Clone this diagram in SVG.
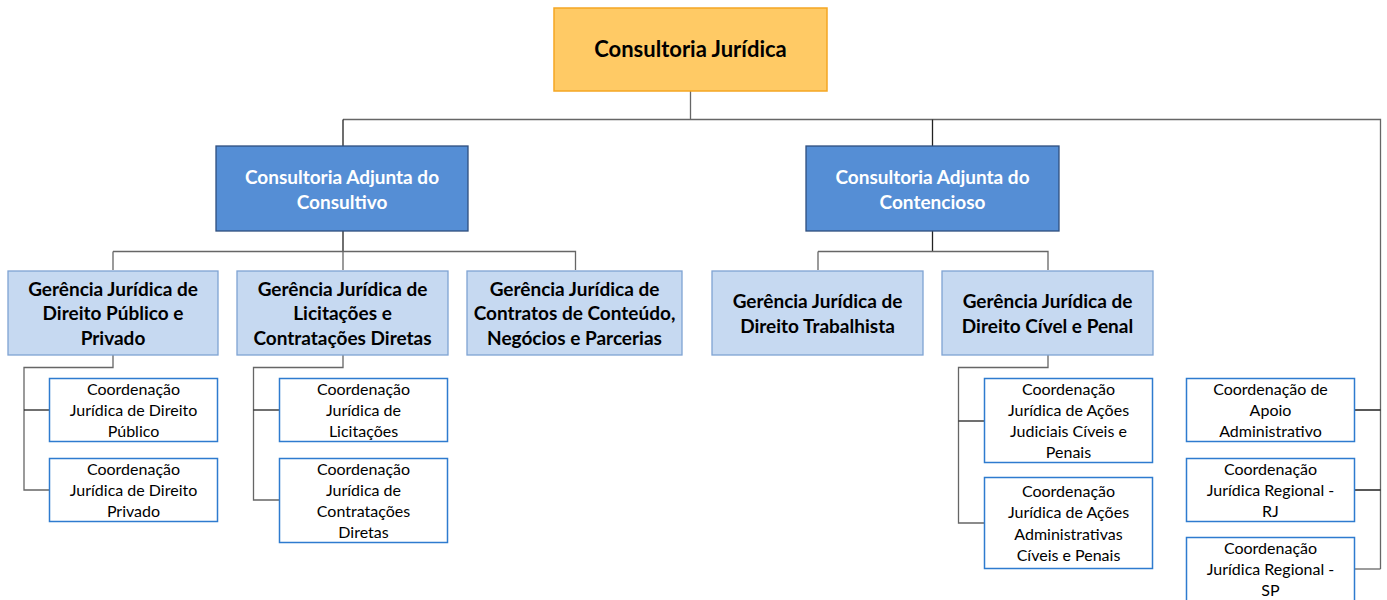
<svg xmlns="http://www.w3.org/2000/svg" width="1387" height="600" viewBox="0 0 1387 600">
<style>
text{font-family:Lato,"Open Sans","Liberation Sans",sans-serif;text-anchor:middle}
.top{fill:#FFCA65;stroke:#F5A623;stroke-width:1.5}
.adj{fill:#558ED5;stroke:#2F4F7F;stroke-width:1.3}
.ger{fill:#C6D9F1;stroke:#7FA3D3;stroke-width:1.3}
.co{fill:#fff;stroke:#2E7BCF;stroke-width:1.5}
.t1{font-size:22px;font-weight:bold;fill:#000}
.t2{font-size:19px;font-weight:bold;fill:#fff}
.t3{font-size:19px;font-weight:bold;fill:#000}
.t4{font-size:16px;fill:#000}
.c{fill:none;stroke:#666;stroke-width:1.3}
.d{fill:none;stroke:#222;stroke-width:1.3}
</style>
<g id="connectors">
<path class="c" d="M690.5 91V119.5M343 119.5H1380.5V569"/>
<path class="d" d="M343 119.5V146M932.5 119.5V146"/>
<path class="d" d="M343 231V251.5"/>
<path class="c" d="M113 251.5H575.5V270M113 251.5V270M343 251.5V270"/>
<path class="d" d="M932.5 231V251.5"/>
<path class="c" d="M818 251.5H1048V270M818 251.5V270"/>
<path class="c" d="M113 354V367.5H24V490H49"/>
<path class="d" d="M24 410H49"/>
<path class="c" d="M343 354V367.5H253.5V500H279"/>
<path class="d" d="M253.5 410H279"/>
<path class="c" d="M1048 354V367.5H958.5V523H984"/>
<path class="d" d="M958.5 421H984"/>
<path class="d" d="M1355 410H1380.5M1355 490H1380.5"/>
<path class="c" d="M1355 569H1380.5"/>
</g>
<g id="n-cj"><rect class="top" x="554" y="8" width="273" height="83"/><text class="t1" x="690.5" y="57">Consultoria Jurídica</text></g>
<g id="n-cac"><rect class="adj" x="216" y="146" width="252" height="85"/><text class="t2" x="342" y="184">Consultoria Adjunta do</text><text class="t2" x="342" y="209">Consultivo</text></g>
<g id="n-cact"><rect class="adj" x="806" y="146" width="253" height="85"/><text class="t2" x="932.5" y="184">Consultoria Adjunta do</text><text class="t2" x="932.5" y="209">Contencioso</text></g>
<g id="n-g1"><rect class="ger" x="8" y="271" width="210" height="84"/><text class="t3" x="113" y="296">Gerência Jurídica de</text><text class="t3" x="113" y="320">Direito Público e</text><text class="t3" x="113" y="345">Privado</text></g>
<g id="n-g2"><rect class="ger" x="237" y="271" width="211" height="84"/><text class="t3" x="342.5" y="296">Gerência Jurídica de</text><text class="t3" x="342.5" y="320">Licitações e</text><text class="t3" x="342.5" y="345">Contratações Diretas</text></g>
<g id="n-g3"><rect class="ger" x="467" y="271" width="215" height="84"/><text class="t3" x="574.5" y="296">Gerência Jurídica de</text><text class="t3" x="574.5" y="320">Contratos de Conteúdo,</text><text class="t3" x="574.5" y="345">Negócios e Parcerias</text></g>
<g id="n-g4"><rect class="ger" x="712" y="271" width="211" height="84"/><text class="t3" x="817.5" y="308">Gerência Jurídica de</text><text class="t3" x="817.5" y="333">Direito Trabalhista</text></g>
<g id="n-g5"><rect class="ger" x="942" y="271" width="211" height="84"/><text class="t3" x="1047.5" y="308">Gerência Jurídica de</text><text class="t3" x="1047.5" y="333">Direito Cível e Penal</text></g>
<g id="n-c1"><rect class="co" x="49.5" y="378.5" width="168" height="63"/><text class="t4" x="133.5" y="395">Coordenação</text><text class="t4" x="133.5" y="416">Jurídica de Direito</text><text class="t4" x="133.5" y="437">Público</text></g>
<g id="n-c2"><rect class="co" x="49.5" y="458.5" width="168" height="63"/><text class="t4" x="133.5" y="475">Coordenação</text><text class="t4" x="133.5" y="496">Jurídica de Direito</text><text class="t4" x="133.5" y="517">Privado</text></g>
<g id="n-c3"><rect class="co" x="279.5" y="378.5" width="168" height="63"/><text class="t4" x="363.5" y="395">Coordenação</text><text class="t4" x="363.5" y="416">Jurídica de</text><text class="t4" x="363.5" y="437">Licitações</text></g>
<g id="n-c4"><rect class="co" x="279.5" y="458.5" width="168" height="84"/><text class="t4" x="363.5" y="475">Coordenação</text><text class="t4" x="363.5" y="496">Jurídica de</text><text class="t4" x="363.5" y="517">Contratações</text><text class="t4" x="363.5" y="538">Diretas</text></g>
<g id="n-c5"><rect class="co" x="984.5" y="378.5" width="168" height="84"/><text class="t4" x="1068.5" y="395">Coordenação</text><text class="t4" x="1068.5" y="416">Jurídica de Ações</text><text class="t4" x="1068.5" y="437">Judiciais Cíveis e</text><text class="t4" x="1068.5" y="458">Penais</text></g>
<g id="n-c6"><rect class="co" x="984.5" y="477.5" width="168" height="91"/><text class="t4" x="1068.5" y="497">Coordenação</text><text class="t4" x="1068.5" y="518">Jurídica de Ações</text><text class="t4" x="1068.5" y="540">Administrativas</text><text class="t4" x="1068.5" y="561">Cíveis e Penais</text></g>
<g id="n-c7"><rect class="co" x="1186.5" y="378.5" width="168" height="63"/><text class="t4" x="1270.5" y="395">Coordenação de</text><text class="t4" x="1270.5" y="416">Apoio</text><text class="t4" x="1270.5" y="437">Administrativo</text></g>
<g id="n-c8"><rect class="co" x="1186.5" y="458.5" width="168" height="63"/><text class="t4" x="1270.5" y="475">Coordenação</text><text class="t4" x="1270.5" y="496">Jurídica Regional -</text><text class="t4" x="1270.5" y="517">RJ</text></g>
<g id="n-c9"><rect class="co" x="1186.5" y="537.5" width="168" height="66"/><text class="t4" x="1270.5" y="554">Coordenação</text><text class="t4" x="1270.5" y="575">Jurídica Regional -</text><text class="t4" x="1270.5" y="596">SP</text></g>
</svg>
